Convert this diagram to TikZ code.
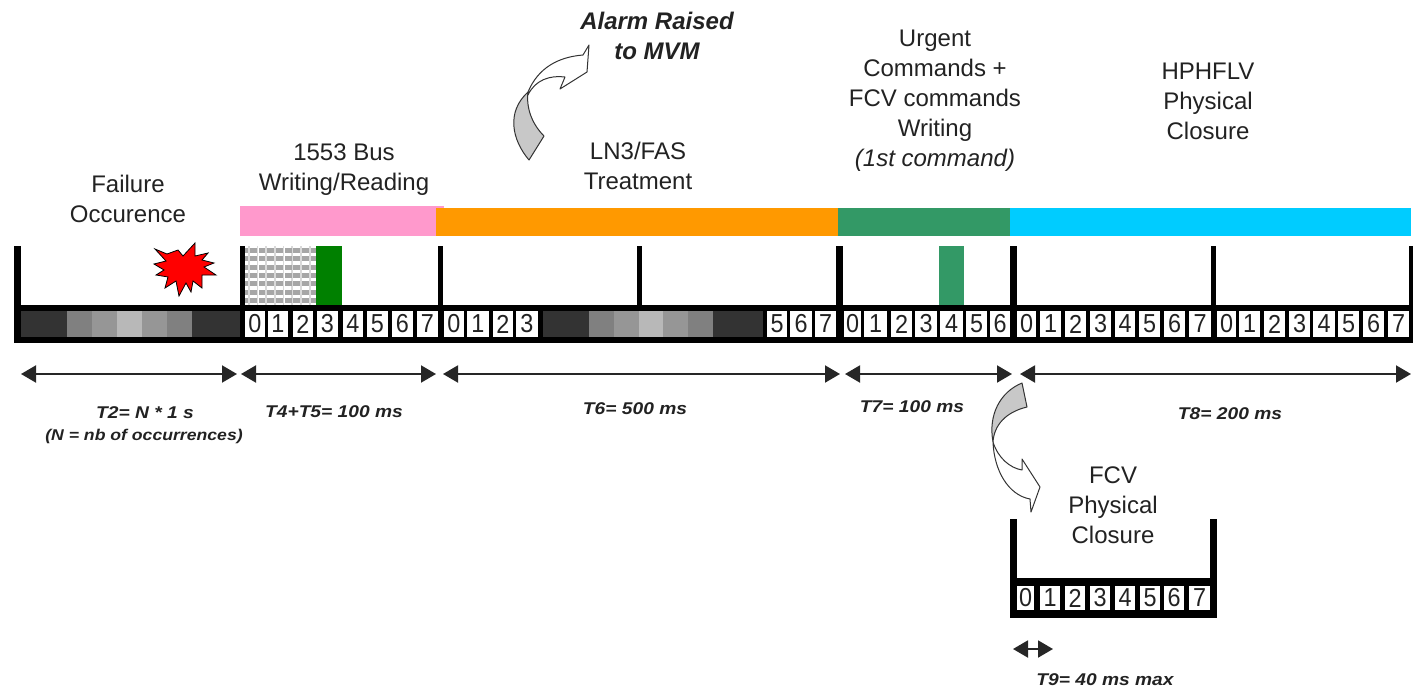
\documentclass[tikz,border=0pt]{standalone}
\usepackage{fontspec}
\setmainfont{Liberation Sans}
\newfontfamily\lablfont[FakeStretch=1.13]{Liberation Sans}
\newfontfamily\digitfont[FakeStretch=0.9]{Liberation Sans}
\usetikzlibrary{arrows.meta}
\definecolor{txt}{HTML}{222222}
\definecolor{pinkbar}{HTML}{FF99CC}
\definecolor{orangebar}{HTML}{FF9900}
\definecolor{greenbar}{HTML}{339966}
\definecolor{bluebar}{HTML}{00CCFF}
\definecolor{darkgreen}{HTML}{008000}
\definecolor{seg1}{HTML}{333333}
\definecolor{seg2}{HTML}{808080}
\definecolor{seg3}{HTML}{969696}
\definecolor{seg4}{HTML}{B8B8B8}
\definecolor{ribbon}{HTML}{C8C8C8}
\tikzset{
  x=1pt,y=-1pt,
  big/.style={font=\fontsize{24}{30}\selectfont,text=txt,align=center,inner sep=0pt},
  bigit/.style={font=\fontsize{24}{30}\selectfont\bfseries\itshape,text=txt,align=center,inner sep=0pt},
  lab/.style={font=\fontsize{17}{20}\selectfont\lablfont\bfseries\itshape,text=txt,inner sep=0pt},
  labsmall/.style={font=\fontsize{15.6}{20}\selectfont\lablfont\bfseries\itshape,text=txt,inner sep=0pt},
  digit/.style={font=\fontsize{26}{26}\selectfont\digitfont,text=txt,inner sep=0pt},
  span/.style={draw=black!85,line width=2pt,{Triangle[length=15pt,width=17pt]}-{Triangle[length=15pt,width=17pt]}},
  ribbonline/.style={draw=black!80,line width=1pt,line join=round},
}
\begin{document}
\begin{tikzpicture}
\useasboundingbox (0,0) rectangle (1413,689);
% coloured phase bars
\fill[pinkbar] (240,206) rectangle (444,236);
\fill[orangebar] (436,208) rectangle (838,236);
\fill[greenbar] (838,208) rectangle (1010,236);
\fill[bluebar] (1010,208) rectangle (1411,236);
% hatched + solid blocks
\foreach \c in {0,...,7}{
  \fill[gray!30] (247.8+\c*8.7,246) rectangle ++(1.8,59);}
\begin{scope}
\clip (245,246) rectangle (316,305);
\foreach \r in {0,...,6}{\foreach \c in {0,...,8}{
  \fill[gray!70] (241.2+\c*8.7,248+\r*8.3) rectangle ++(6.8,5);}}
\end{scope}
\fill[darkgreen] (316,246) rectangle (342,305);
\fill[greenbar] (939,246) rectangle (964,305);
% black main bar and posts
\fill[black] (14,305) rectangle (1413,343);
\foreach \a/\b in {14/21,240/245,438/443,637/642,836/843,1010/1017,1211/1216,1409/1413}
  \fill[black] (\a,246) rectangle (\b,305);
% grey fading blocks
\foreach \a/\b/\c in {21/67/seg1,67/92/seg2,92/117/seg3,117/142/seg4,142/167/seg3,167/192/seg2,192/240/seg1,
  543/589/seg1,589/614/seg2,614/639/seg3,639/663/seg4,663/688/seg3,688/713/seg2,713/763/seg1}
  \fill[\c] (\a,311) rectangle (\b,337);
% digit cells
\foreach \a/\b/\d [count=\n] in {
  245/265/0,268/288/1,293/313/2,317/338/3,343/363/4,367/388/5,392/413/6,417/438/7,
  444/464/0,467/489/1,493/513/2,516/538/3,767/787/5,790/812/6,815/836/7,
  844/861/0,864/887/1,891/912/2,915/937/3,940/963/4,966/987/5,990/1010/6,
  1017/1036/0,1040/1061/1,1065/1086/2,1090/1111/3,1115/1135/4,1139/1160/5,1164/1185/6,1189/1211/7,
  1217/1236/0,1239/1260/1,1264/1285/2,1289/1310/3,1313/1335/4,1338/1359/5,1363/1384/6,1388/1409/7}{
  \fill[white] (\a,311) rectangle (\b,337);
  \node[digit] (cell\n) at ({(\a+\b)/2},324) {\d};
}
% FCV bar
\fill[black] (1010,578) rectangle (1217,618);
\fill[black] (1010,519) rectangle (1017,578);
\fill[black] (1210,519) rectangle (1217,578);
\foreach \a/\b/\d [count=\n] in {1017/1034/0,1040/1060/1,1065/1085/2,1090/1110/3,1115/1135/4,1140/1160/5,1164/1184/6,1189/1210/7}{
  \fill[white] (\a,586) rectangle (\b,610);
  \node[digit] (fcv\n) at ({(\a+\b)/2},598) {\d};
}
% explosion
\fill[red,draw=black,line width=.8pt,line join=miter]
  (155,249)--(167,254)--(178,250)--(183,256)--(195,243)--(195,256)--(208,253)--(202,260)
  --(214,263)--(204,267)--(216,275)--(202,275)--(202,288)--(193,281)--(191,292)--(186,283)
  --(179,296)--(176,281)--(165,288)--(168,277)--(156,275)--(164,270)--(154,264)--(166,261)--cycle;
% top curved arrow
\path[fill=ribbon,ribbonline] (529,160) .. controls (512,140) and (506,112) .. (528,92)
  .. controls (526,108) and (532,124) .. (544,136) -- cycle;
\path[fill=white,ribbonline] (528,92) .. controls (538,68) and (558,57) .. (583,55)
  -- (589,45) -- (587,72) -- (560,89) -- (565,77) .. controls (550,75) and (535,80) .. (528,95) -- cycle;
% lower curved arrow
\path[fill=ribbon,ribbonline] (1022,383) .. controls (1000,392) and (988,415) .. (993,442)
  .. controls (994,425) and (1006,412) .. (1027,407) -- cycle;
\path[fill=white,ribbonline] (993,442) .. controls (994,470) and (1008,495) .. (1030,499)
  -- (1031,512) -- (1040,487) -- (1022,459) -- (1022,470) .. controls (1010,468) and (998,458) .. (993,442) -- cycle;
% span arrows
\foreach \nm/\a/\b in {a/21/237,b/241/436,c/443/840,d/845/1012,e/1020/1411}{
  \coordinate (\nm1) at (\a,374);
  \coordinate (\nm2) at (\b,374);
  \draw[span] (\nm1) -- (\nm2);
}
\coordinate (f1) at (1013,649);
\coordinate (f2) at (1053,649);
\draw[span] (f1) -- (f2);
% texts
\node[big] (failure) at (128,199) {Failure\\Occurence};
\node[big] (bus) at (344,169.5) {1553 Bus\\Writing/Reading};
\node[big] (lnfas) at (638,166) {LN3/FAS\\Treatment};
\node[big] (urgent) at (935,101) {Urgent\\Commands +\\FCV commands\\Writing\\{\itshape (1st command)}};
\node[big] (hphflv) at (1208,101) {HPHFLV\\Physical\\Closure};
\node[big] (fcv) at (1113,505.5) {FCV\\Physical\\Closure};
\node[bigit] (alarm) at (657,36) {Alarm Raised\\to MVM};
\node[lab] (t2) at (145,413) {T2= N * 1 s};
\node[labsmall] (t2b) at (144,436) {(N = nb of occurrences)};
\node[lab] (t4) at (334,412) {T4+T5= 100 ms};
\node[lab] (t6) at (635,409) {T6= 500 ms};
\node[lab] (t7) at (912,407) {T7= 100 ms};
\node[lab] (t8) at (1230,414) {T8= 200 ms};
\node[lab] (t9) at (1105,680) {T9= 40 ms max};
\end{tikzpicture}
\end{document}
